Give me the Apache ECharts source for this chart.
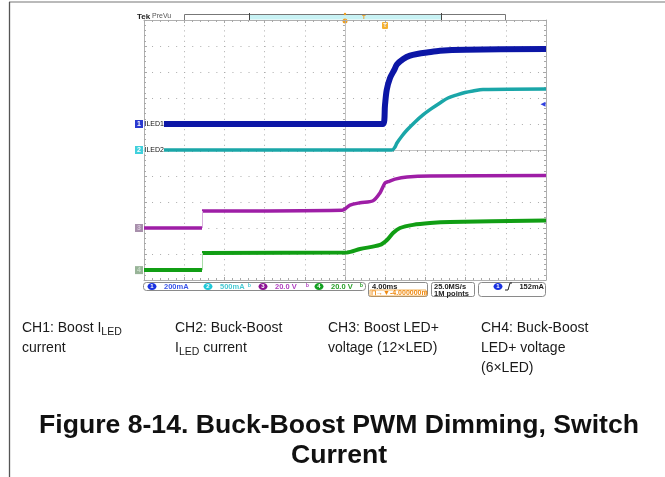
<!DOCTYPE html>
<html><head><meta charset="utf-8">
<script src="https://cdn.jsdelivr.net/npm/echarts@6/dist/echarts.min.js"></script>
<style>html,body{margin:0;padding:0;background:#fff;}#c{width:665px;height:477px;}</style>
</head><body><div id="c"></div>
<script>
// Time axis: ms (4.00 ms/div, 10 divisions), vertical axis: graticule divisions from centre
const timeTicks = [-20, -16, -12, -8, -4, 0, 4, 8, 12, 16, 20];
const ch1Time = [-20, 3.8, 3.98, 4.15, 4.48, 4.9, 5.17, 5.8, 6.47, 7.3, 8.16, 9.45, 12, 20];
const ch1Div  = [1.0, 1.0, 1.73, 2.31, 2.77, 3.08, 3.29, 3.5, 3.63, 3.7, 3.75, 3.82, 3.86, 3.88];
const ch2Time = [-20, 4.68, 4.98, 5.17, 5.67, 6.17, 6.97, 7.76, 8.56, 9.45, 10.25, 11.14, 11.94, 12.74, 13.73, 20];
const ch2Div  = [0, 0, 0.12, 0.27, 0.54, 0.77, 1.08, 1.35, 1.58, 1.81, 2.0, 2.12, 2.21, 2.27, 2.33, 2.35];
const ch3Time = [-20, -14.23, -14.23, -0.3, 0.5, 1.5, 2.79, 3.48, 3.98, 4.28, 4.98, 6.17, 8.46, 20];
const ch3Div  = [-3.0, -3.0, -2.35, -2.32, -2.12, -2.03, -1.95, -1.65, -1.27, -1.22, -1.12, -1.04, -1.0, -0.98];
const ch4Time = [-20, -14.23, -14.23, 0.2, 1.49, 3.48, 4.18, 4.78, 5.47, 6.77, 8.46, 10.45, 20];
const ch4Div  = [-4.62, -4.62, -3.96, -3.94, -3.81, -3.65, -3.46, -3.19, -3.0, -2.88, -2.81, -2.77, -2.71];
const triggerLevelDiv = 1.76; // 152 mA on CH1
const channelNames = ['ILED1', 'ILED2'];
// caption lines; "_{...}" marks a subscript
const captions = [
  ['CH1: Boost I_{LED}', 'current'],
  ['CH2: Buck-Boost', 'I_{LED} current'],
  ['CH3: Boost LED+', 'voltage (12×LED)'],
  ['CH4: Buck-Boost', 'LED+ voltage', '(6×LED)']
];
const titleLines = ['Figure 8-14. Buck-Boost PWM Dimming, Switch', 'Current'];

function pairs(t, v) {
  const out = [];
  for (let i = 0; i < t.length; i++) {
    if (i > 0 && t[i] === t[i - 1]) out.push([t[i], '-']);
    out.push([t[i], v[i]]);
  }
  return out;
}

const chart = echarts.init(document.getElementById('c'), null, {renderer: 'canvas'});
const G = {left: 144, top: 20, width: 402, height: 260};
const gridCol = '#acacac';
function centerAxis(extra) {
  return Object.assign({
    type: 'value', axisLabel: {show: false},
    axisLine: {show: true, onZero: true, lineStyle: {color: '#c4c4c4', width: 1}},
    axisTick: {show: true, length: 3, lineStyle: {color: '#a8a8a8'}},
    minorTick: {show: true, splitNumber: 5, length: 2, lineStyle: {color: '#a8a8a8'}},
    minorSplitLine: {show: false}
  }, extra);
}
function frameAxis(extra) {
  return Object.assign({
    type: 'value', gridIndex: 1, axisLabel: {show: false},
    axisLine: {show: true, onZero: false, lineStyle: {color: '#b0b0b0', width: 1}},
    axisTick: {show: true, inside: true, length: 3, lineStyle: {color: '#a8a8a8'}},
    minorTick: {show: true, splitNumber: 5, length: 2, lineStyle: {color: '#a8a8a8'}},
    splitLine: {show: false}
  }, extra);
}
function chanMarker(color, text, yv, label, textColor) {
  const d = [{
    coord: [-20, yv], symbol: 'rect', symbolSize: [8, 8], symbolOffset: [-5, 0],
    itemStyle: {color: color},
    label: {show: true, position: 'inside', formatter: text, color: textColor || '#fff', fontSize: 7, fontWeight: 'bold', fontFamily: 'Liberation Sans'}
  }];
  if (label) d.push({
    coord: [-20, yv], symbol: 'rect', symbolSize: 1, itemStyle: {color: 'rgba(0,0,0,0)'},
    label: {show: true, position: 'right', distance: 0, formatter: label, color: '#111', fontSize: 7,
      fontFamily: 'Liberation Sans', backgroundColor: '#fff', padding: [0, 0, 0, 0]}
  });
  return d;
}
const graphics = [
  {type: 'line', shape: {x1: 9, y1: 2, x2: 665, y2: 2}, style: {stroke: '#777', lineWidth: 1.2}},
  {type: 'line', shape: {x1: 9.5, y1: 2, x2: 9.5, y2: 477}, style: {stroke: '#555', lineWidth: 1.3}},
  // header
  {type: 'text', x: 137, y: 13, style: {text: 'Tek', font: 'bold 8px Liberation Sans', fill: '#222'}},
  {type: 'text', x: 152, y: 13, style: {text: 'PreVu', font: '7px Liberation Sans', fill: '#555'}},
  {type: 'rect', shape: {x: 249, y: 14.5, width: 193, height: 5}, style: {fill: '#c8f2f4'}},
  {type: 'rect', shape: {x: 184.5, y: 14.5, width: 321, height: 6}, style: {fill: 'none', stroke: '#777', lineWidth: 1}},
  {type: 'line', shape: {x1: 249.5, y1: 13, x2: 249.5, y2: 21}, style: {stroke: '#444', lineWidth: 1}},
  {type: 'line', shape: {x1: 441.5, y1: 13, x2: 441.5, y2: 21}, style: {stroke: '#444', lineWidth: 1}},
  {type: 'circle', shape: {cx: 345, cy: 14, r: 1.2}, style: {fill: '#f0a020'}},
  {type: 'circle', shape: {cx: 345, cy: 21, r: 2.5}, style: {fill: '#f0a020'}},
  {type: 'text', x: 362, y: 14.5, style: {text: 'T', font: 'bold 6px Liberation Sans', fill: '#f0a020'}},
  {type: 'rect', shape: {x: 382, y: 22, width: 6, height: 7, r: 1}, style: {fill: '#f5b030'}},
  {type: 'text', x: 383.3, y: 22.5, style: {text: 'T', font: 'bold 6px Liberation Sans', fill: '#fff'}},
  // status bar
  {type: 'rect', shape: {x: 143.5, y: 282.5, width: 222, height: 8, r: 3}, style: {fill: '#fff', stroke: '#8a8a8a', lineWidth: 1}},
  {type: 'rect', shape: {x: 368.5, y: 282.5, width: 59, height: 14, r: 2}, style: {fill: '#fff', stroke: '#8a8a8a', lineWidth: 1}},
  {type: 'rect', shape: {x: 370, y: 290, width: 56, height: 6}, style: {fill: 'none', stroke: '#f0a030', lineWidth: 0.8}},
  {type: 'rect', shape: {x: 431.5, y: 282.5, width: 43, height: 14, r: 2}, style: {fill: '#fff', stroke: '#8a8a8a', lineWidth: 1}},
  {type: 'rect', shape: {x: 478.5, y: 282.5, width: 67, height: 14, r: 3}, style: {fill: '#fff', stroke: '#8a8a8a', lineWidth: 1}}
];
function badge(cx, cy, color, n) {
  graphics.push({type: 'ellipse', shape: {cx: cx, cy: cy, rx: 4.5, ry: 3.5}, style: {fill: color}});
  graphics.push({type: 'text', x: cx, y: cy, style: {text: n, font: 'bold 6px Liberation Sans', fill: '#fff', align: 'center', verticalAlign: 'middle'}});
}
function stxt(x, y, t, color, extra) {
  graphics.push({type: 'text', x: x, y: y, style: Object.assign({text: t, font: 'bold 7.5px Liberation Sans', fill: color, verticalAlign: 'middle'}, extra || {})});
}
badge(152, 286.5, '#1a32e0', '1'); stxt(164, 286.5, '200mA', '#3a55ea');
badge(208, 286.5, '#20c8d8', '2'); stxt(220, 286.5, '500mA', '#48cad4'); stxt(248, 286.5, 'ᵇ', '#48cad4');
badge(263, 286.5, '#8c1294', '3'); stxt(275, 286.5, '20.0 V', '#b040c0'); stxt(306, 286.5, 'ᵇ', '#b040c0');
badge(319, 286.5, '#12a020', '4'); stxt(331, 286.5, '20.0 V', '#2aa02a'); stxt(360, 286.5, 'ᵇ', '#2aa02a');
stxt(372, 286.5, '4.00ms', '#222');
stxt(371, 293.2, '⊓→▼-4.000000m', '#f08a10', {font: 'bold 7px Liberation Sans'});
stxt(434, 286.5, '25.0MS/s', '#222');
stxt(434, 293.5, '1M points', '#222');
badge(498, 286.5, '#1a32e0', '1');
graphics.push({type: 'polyline', shape: {points: [[505, 290], [508, 290], [510, 283], [512, 283]]}, style: {stroke: '#222', lineWidth: 1, fill: 'none'}});
stxt(544, 286.5, '152mA', '#222', {align: 'right'});
// captions (with measured subscripts)
const mctx = document.createElement('canvas').getContext('2d');
const capFont = '14px Liberation Sans', subFont = '10.5px Liberation Sans';
const capX = [22, 175, 328, 481];
captions.forEach((lines, i) => {
  lines.forEach((line, j) => {
    const bottomY = 335 + j * 20;
    let x = capX[i];
    line.split(/(_\{[^}]*\})/).filter(s => s.length).forEach(seg => {
      const sub = seg.startsWith('_{');
      const txt = sub ? seg.slice(2, -1) : seg;
      const f = sub ? subFont : capFont;
      graphics.push({type: 'text', x: x, y: bottomY + (sub ? 3 : 0), style: {
        text: txt, font: f, fill: '#1a1a1a', verticalAlign: 'bottom'}});
      mctx.font = f;
      x += mctx.measureText(txt).width;
    });
  });
});
titleLines.forEach((t, i) => graphics.push({type: 'text', x: 339, y: 426 + i * 30, style: {
  text: t, font: 'bold 26.6px Liberation Sans', fill: '#111', align: 'center', verticalAlign: 'middle'}}));

chart.setOption({
  animation: false,
  backgroundColor: '#fff',
  grid: [Object.assign({show: false}, G), Object.assign({show: false}, G)],
  xAxis: [
    centerAxis({min: -20, max: 20, interval: 4,
      splitLine: {show: true, lineStyle: {color: gridCol, width: 1, type: [1, 4.2]}}}),
    frameAxis({min: -20, max: 20, interval: 4, position: 'bottom'}),
    frameAxis({min: -20, max: 20, interval: 4, position: 'top'})
  ],
  yAxis: [
    centerAxis({min: -5, max: 5, interval: 1,
      splitLine: {show: true, lineStyle: {color: gridCol, width: 1, type: [1, 7.04]}}}),
    frameAxis({min: -5, max: 5, interval: 1, position: 'left'}),
    frameAxis({min: -5, max: 5, interval: 1, position: 'right'})
  ],
  series: [
    {name: 'CH2', type: 'line', data: pairs(ch2Time, ch2Div), showSymbol: false, smooth: 0.3, connectNulls: false,
      lineStyle: {color: '#1aa6a8', width: 3.5}, z: 3,
      markPoint: {silent: true, data: chanMarker('#40d0dc', '2', 0, channelNames[1])}},
    {name: 'CH1', type: 'line', data: pairs(ch1Time, ch1Div), showSymbol: false, smooth: 0.3,
      lineStyle: {color: '#0c16a6', width: 6}, z: 4,
      markPoint: {silent: true, data: chanMarker('#2a3ad0', '1', 1.0, channelNames[0]).concat([{
        coord: [20, triggerLevelDiv], symbol: 'triangle', symbolRotate: 90, symbolSize: [5, 5], symbolOffset: [-3, 0],
        itemStyle: {color: '#3040e0'}, label: {show: false}}])}},
    {name: 'CH3', type: 'line', data: pairs(ch3Time, ch3Div), showSymbol: false, smooth: 0.3, connectNulls: false,
      lineStyle: {color: '#9e1ea6', width: 3.5}, z: 3,
      markLine: {silent: true, symbol: 'none', label: {show: false}, lineStyle: {color: '#d8b0dc', width: 1, type: 'solid'},
        data: [[{coord: [ch3Time[1], ch3Div[1]]}, {coord: [ch3Time[2], ch3Div[2]]}]]},
      markPoint: {silent: true, data: chanMarker('#a890ac', '3', ch3Div[0], null, '#d8c8dc')}},
    {name: 'CH4', type: 'line', data: pairs(ch4Time, ch4Div), showSymbol: false, smooth: 0.3, connectNulls: false,
      lineStyle: {color: '#119e14', width: 4}, z: 3,
      markLine: {silent: true, symbol: 'none', label: {show: false}, lineStyle: {color: '#a8dca8', width: 1, type: 'solid'},
        data: [[{coord: [ch4Time[1], ch4Div[1]]}, {coord: [ch4Time[2], ch4Div[2]]}]]},
      markPoint: {silent: true, data: chanMarker('#98b498', '4', ch4Div[0], null, '#c8dcc8')}}
  ],
  graphic: graphics
});
</script></body></html>
